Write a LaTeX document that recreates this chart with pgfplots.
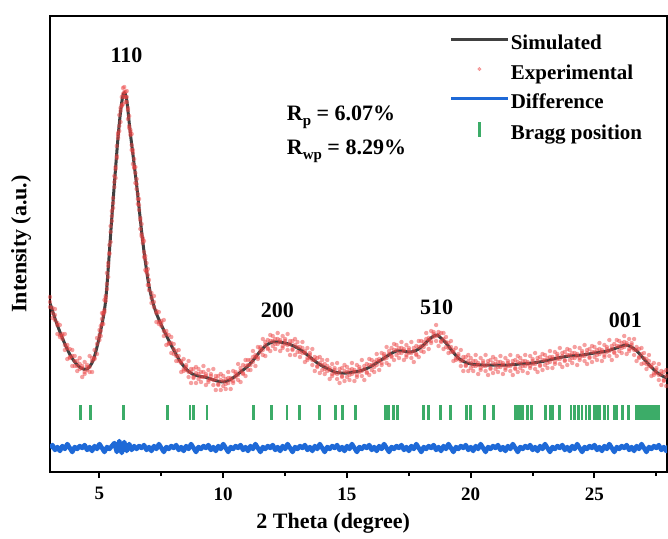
\documentclass[border=0pt]{standalone}
\usepackage{fontspec}
\setmainfont{Liberation Serif}
\usepackage{pgfplots}
\pgfplotsset{compat=1.18}
\usepackage{pgfplotstable}

\definecolor{simc}{RGB}{64,64,64}
\definecolor{expc}{RGB}{236,66,66}
\definecolor{difc}{RGB}{30,105,215}
\definecolor{bragc}{RGB}{60,172,104}

\pgfplotstableread{
x s
3.00 169
3.25 150
3.50 134
3.75 120
4.00 110
4.25 104
4.50 103
4.75 112
5.00 136
5.25 172
5.50 255
5.75 335
5.90 370
6.00 379
6.10 372
6.25 338
6.50 287
6.75 230
7.00 186
7.25 162
7.50 147
7.75 134
8.00 122
8.25 111
8.50 103
8.75 98
9.00 96
9.25 95
9.50 93
9.75 91
10.00 90
10.25 92
10.50 96
10.75 101
11.00 106
11.25 113
11.50 121
11.75 127
12.00 130
12.25 130
12.50 129
12.75 127
13.00 124
13.25 120
13.50 115
13.75 110
14.00 106
14.25 103
14.50 100
14.75 99
15.00 99
15.25 100
15.50 101
15.75 103
16.00 106
16.25 110
16.50 114
16.75 118
17.00 121
17.25 121
17.50 120
17.75 121
18.00 125
18.25 131
18.50 136
18.65 137
18.75 135
19.00 129
19.25 121
19.50 114
19.75 110
20.00 108
20.50 107
21.00 107
21.50 107
22.00 108
22.50 109
23.00 111
23.50 114
24.00 116
24.50 117
25.00 119
25.50 121
26.00 125
26.25 127
26.50 125
26.75 120
27.00 113
27.25 106
27.50 100
27.75 96
28.00 93
}\simdata

\pgfplotstableread{
x a b c
3.0 175 165 170
3.1 164 154 159
3.2 163 152 157
3.3 149 138 147
3.4 147 135 137
3.5 138 133 136
3.6 138 122 127
3.7 124 113 127
3.8 123 115 114
3.9 122 106 116
4.0 116 106 111
4.1 111 101 106
4.2 114 103 108
4.3 106 95 104
4.4 110 98 100
4.5 107 102 105
4.6 116 100 105
4.7 111 100 114
4.8 122 114 113
4.9 134 118 128
5.0 142 132 137
5.05 146 136 141
5.1 159 148 153
5.15 159 148 157
5.2 172 160 162
5.25 176 171 174
5.3 199 183 188
5.35 206 195 209
5.4 227 219 218
5.45 246 230 240
5.5 261 251 256
5.55 274 264 269
5.6 296 285 290
5.65 305 294 303
5.7 326 314 316
5.75 339 334 337
5.8 357 341 346
5.85 361 350 364
5.9 375 367 366
5.95 384 368 378
6.0 385 375 380
6.05 380 370 375
6.1 381 370 375
6.15 364 353 362
6.2 356 344 346
6.25 342 337 340
6.3 338 322 327
6.35 319 308 322
6.4 313 305 304
6.45 305 289 299
6.5 293 283 288
6.55 278 268 273
6.6 273 262 267
6.65 254 243 252
6.7 248 236 238
6.75 234 229 232
6.8 231 215 220
6.85 213 202 216
6.9 209 201 200
6.95 203 187 197
7.0 192 182 187
7.1 179 169 174
7.2 176 165 170
7.3 161 150 159
7.4 160 148 150
7.5 151 146 149
7.6 152 136 141
7.7 138 127 141
7.8 137 129 128
7.9 135 119 129
8.0 128 118 123
8.1 121 111 116
8.2 122 111 116
8.3 111 100 109
8.4 113 101 103
8.5 107 102 105
8.6 111 95 100
8.7 100 89 103
8.8 103 95 94
8.9 105 89 99
9.0 103 93 98
9.1 100 90 95
9.2 106 95 100
9.3 98 87 96
9.4 102 90 92
9.5 98 93 96
9.6 103 87 92
9.7 93 82 96
9.8 96 88 87
9.9 98 82 92
10.0 96 86 91
10.1 93 83 88
10.2 100 89 94
10.3 94 83 92
10.4 101 89 91
10.5 100 95 98
10.6 108 92 97
10.7 101 90 104
10.8 107 99 98
10.9 112 96 106
11.0 112 102 107
11.1 112 102 107
11.2 121 110 115
11.3 117 106 115
11.4 125 113 115
11.5 125 120 123
11.6 133 117 122
11.7 127 116 130
11.8 132 124 123
11.9 137 121 131
12.0 136 126 131
12.1 133 123 128
12.2 139 128 133
12.3 132 121 130
12.4 136 124 126
12.5 133 128 131
12.6 138 122 127
12.7 128 117 131
12.8 131 123 122
12.9 133 117 127
13.0 130 120 125
13.1 125 115 120
13.2 130 119 124
13.3 121 110 119
13.4 124 112 114
13.5 119 114 117
13.6 123 107 112
13.7 112 101 115
13.8 114 106 105
13.9 115 99 109
14.0 112 102 107
14.1 108 98 103
14.2 112 101 106
14.3 104 93 102
14.4 108 96 98
14.5 104 99 102
14.6 109 93 98
14.7 100 89 103
14.8 104 96 95
14.9 107 91 101
15.0 105 95 100
15.1 102 92 97
15.2 109 98 103
15.3 102 91 100
15.4 107 95 97
15.5 105 100 103
15.6 112 96 101
15.7 103 92 106
15.8 108 100 99
15.9 113 97 107
16.0 112 102 107
16.1 110 100 105
16.2 118 107 112
16.3 113 102 111
16.4 119 107 109
16.5 118 113 116
16.6 125 109 114
16.7 118 107 121
16.8 124 116 115
16.9 128 112 122
17.0 127 117 122
17.1 124 114 119
17.2 130 119 124
17.3 123 112 121
17.4 127 115 117
17.5 124 119 122
17.6 130 114 119
17.7 121 110 124
17.8 126 118 117
17.9 131 115 125
18.0 131 121 126
18.1 130 120 125
18.2 139 128 133
18.3 134 123 132
18.4 141 129 131
18.5 140 135 138
18.6 147 131 136
18.7 137 126 140
18.8 139 131 130
18.9 139 123 133
19.0 135 125 130
19.1 129 119 124
19.2 131 120 125
19.3 122 111 120
19.4 124 112 114
19.5 118 113 116
19.6 122 106 111
19.7 112 101 115
19.8 115 107 106
19.9 117 101 111
20.0 114 104 109
20.1 111 101 106
20.2 117 106 111
20.3 109 98 107
20.4 114 102 104
20.5 111 106 109
20.6 117 101 106
20.7 108 97 111
20.8 112 104 103
20.9 115 99 109
21.0 113 103 108
21.1 110 100 105
21.2 116 105 110
21.3 109 98 107
21.4 114 102 104
21.5 111 106 109
21.6 117 101 106
21.7 108 97 111
21.8 112 104 103
21.9 116 100 110
22.0 114 104 109
22.1 111 101 106
22.2 117 106 111
22.3 110 99 108
22.4 116 104 106
22.5 113 108 111
22.6 119 103 108
22.7 111 100 114
22.8 115 107 106
22.9 118 102 112
23.0 117 107 112
23.1 114 104 109
23.2 121 110 115
23.3 115 104 113
23.4 120 108 110
23.5 118 113 116
23.6 124 108 113
23.7 116 105 119
23.8 120 112 111
23.9 123 107 117
24.0 122 112 117
24.1 119 109 114
24.2 125 114 119
24.3 118 107 116
24.4 124 112 114
24.5 121 116 119
24.6 127 111 116
24.7 119 108 122
24.8 123 115 114
24.9 126 110 120
25.0 125 115 120
25.1 122 112 117
25.2 129 118 123
25.3 122 111 120
25.4 127 115 117
25.5 125 120 123
25.6 132 116 121
25.7 123 112 126
25.8 128 120 119
25.9 132 116 126
26.0 131 121 126
26.1 129 119 124
26.2 136 125 130
26.3 129 118 127
26.4 133 121 123
26.5 129 124 127
26.6 133 117 122
26.7 122 111 125
26.8 123 115 114
26.9 124 108 118
27.0 119 109 114
27.1 113 103 108
27.2 117 106 111
27.3 107 96 105
27.4 109 97 99
27.5 104 99 102
27.6 108 92 97
27.7 98 87 101
27.8 100 92 91
27.9 102 86 96
28.0 99 89 94
}\expdata

\pgfplotstableread{
x y
4.23 59.5
4.64 59.5
5.98 59.5
7.74 59.5
8.65 59.5
8.81 59.5
9.35 59.5
11.23 59.5
11.95 59.5
12.58 59.5
13.09 59.5
13.90 59.5
14.54 59.5
14.81 59.5
15.34 59.5
16.56 59.5
16.68 59.5
16.88 59.5
17.04 59.5
18.09 59.5
18.29 59.5
18.78 59.5
19.18 59.5
19.83 59.5
19.99 59.5
20.56 59.5
20.92 59.5
21.81 59.5
21.90 59.5
22.00 59.5
22.10 59.5
22.30 59.5
22.45 59.5
23.02 59.5
23.22 59.5
23.30 59.5
23.59 59.5
24.05 59.5
24.20 59.5
24.35 59.5
24.50 59.5
24.65 59.5
24.80 59.5
25.00 59.5
25.10 59.5
25.20 59.5
25.40 59.5
25.55 59.5
25.80 59.5
25.90 59.5
26.13 59.5
26.37 59.5
26.70 59.5
26.80 59.5
26.90 59.5
27.00 59.5
27.10 59.5
27.20 59.5
27.30 59.5
27.40 59.5
27.50 59.5
27.60 59.5
}\bragg

\begin{document}
\begin{tikzpicture}
\useasboundingbox (0,0) rectangle (668pt,538pt);
\begin{axis}[
  at={(50pt,66pt)}, anchor=south west,
  scale only axis, width=617pt, height=456pt,
  xmin=3, xmax=27.93, ymin=0, ymax=456,
  axis line style={line width=2.2pt, black},
  xtick={5,10,15,20,25},
  minor xtick={7.5,12.5,17.5,22.5,27.5},
  xtick pos=left, ytick=\empty,
  tick align=outside,
  major tick length=6pt, minor tick length=4pt,
  every tick/.style={line width=2pt, black},
  /pgf/number format/assume math mode=true,
  xticklabel style={font=\fontsize{19}{19}\selectfont\bfseries, yshift=-6pt},
  xlabel={2 Theta (degree)},
  ylabel={Intensity (a.u.)},
  xlabel style={font=\fontsize{22}{22}\selectfont\bfseries, at={(axis description cs:0.459,-0.112)}, anchor=center},
  ylabel style={font=\fontsize{22}{22}\selectfont\bfseries, at={(axis description cs:-0.047,0.5)}, anchor=center, rotate=0},
  legend cell align=left,
  legend style={at={(axis description cs:0.648,0.962)}, anchor=north west, draw=none, fill=none,
    font=\fontsize{21}{21}\selectfont\bfseries, inner sep=0pt, row sep=7.5pt,
    nodes={inner sep=1pt, text height=15pt, text depth=5pt},
    /tikz/every even column/.append style={column sep=2pt}},
]
\addplot[only marks, mark=*, mark size=2.2pt, mark options={draw opacity=0, fill=expc, fill opacity=0.5}, forget plot] table[x=x,y=a]{\expdata};
\addplot[only marks, mark=*, mark size=2.2pt, mark options={draw opacity=0, fill=expc, fill opacity=0.5}, forget plot] table[x=x,y=b]{\expdata};
\addplot[only marks, mark=*, mark size=2.2pt, mark options={draw opacity=0, fill=expc, fill opacity=0.5}, forget plot] table[x=x,y=c]{\expdata};

\addplot[simc, line width=3pt, smooth, legend image code/.code={\draw[simc, line width=2.8pt] (0pt,5pt) -- (57pt,5pt);}] table[x=x,y=s]{\simdata};
\addlegendentry{Simulated}
\addlegendimage{legend image code/.code={\fill[expc, opacity=0.45] (28pt,5pt) circle (1.8pt);}}
\addlegendentry{Experimental}

\addplot[difc, line width=4.5pt, line join=round, legend image code/.code={\draw[difc, line width=2.8pt] (0pt,5pt) -- (57pt,5pt);}] coordinates {
(3.0,24)(3.1,27)(3.2,22)(3.3,25)(3.4,21)(3.5,26)(3.6,23)(3.7,28)(3.8,24)(3.9,20)
(4.0,25)(4.1,23)(4.2,26)(4.3,24)(4.4,27)(4.5,22)(4.6,25)(4.7,21)(4.8,26)(4.9,23)
(5.0,28)(5.1,24)(5.2,20)(5.3,25)(5.4,23)(5.5,26)(5.6,29)(5.7,20)(5.8,31)(5.9,19)
(6.0,30)(6.1,21)(6.2,28)(6.3,22)(6.4,26)(6.5,23)(6.6,26)(6.7,24)(6.8,27)(6.9,22)
(7.0,25)(7.1,21)(7.2,26)(7.3,23)(7.4,28)(7.5,24)(7.6,20)(7.7,25)(7.8,23)(7.9,26)
(8.0,24)(8.1,27)(8.2,22)(8.3,25)(8.4,21)(8.5,26)(8.6,23)(8.7,28)(8.8,24)(8.9,20)
(9.0,25)(9.1,23)(9.2,26)(9.3,24)(9.4,27)(9.5,22)(9.6,25)(9.7,21)(9.8,26)(9.9,23)
(10.0,28)(10.1,24)(10.2,20)(10.3,25)(10.4,23)(10.5,26)(10.6,24)(10.7,27)(10.8,22)(10.9,25)
(11.0,21)(11.1,26)(11.2,23)(11.3,28)(11.4,24)(11.5,20)(11.6,25)(11.7,23)(11.8,26)(11.9,24)
(12.0,27)(12.1,22)(12.2,25)(12.3,21)(12.4,26)(12.5,23)(12.6,28)(12.7,24)(12.8,20)(12.9,25)
(13.0,23)(13.1,26)(13.2,24)(13.3,27)(13.4,22)(13.5,25)(13.6,21)(13.7,26)(13.8,23)(13.9,28)
(14.0,24)(14.1,20)(14.2,25)(14.3,23)(14.4,26)(14.5,24)(14.6,27)(14.7,22)(14.8,25)(14.9,21)
(15.0,26)(15.1,23)(15.2,28)(15.3,24)(15.4,20)(15.5,25)(15.6,23)(15.7,26)(15.8,24)(15.9,27)
(16.0,22)(16.1,25)(16.2,21)(16.3,26)(16.4,23)(16.5,28)(16.6,24)(16.7,20)(16.8,25)(16.9,23)
(17.0,26)(17.1,24)(17.2,27)(17.3,22)(17.4,25)(17.5,21)(17.6,26)(17.7,23)(17.8,28)(17.9,24)
(18.0,20)(18.1,25)(18.2,23)(18.3,26)(18.4,24)(18.5,27)(18.6,22)(18.7,25)(18.8,21)(18.9,26)
(19.0,23)(19.1,28)(19.2,24)(19.3,20)(19.4,25)(19.5,23)(19.6,26)(19.7,24)(19.8,27)(19.9,22)
(20.0,25)(20.1,21)(20.2,26)(20.3,23)(20.4,28)(20.5,24)(20.6,20)(20.7,25)(20.8,23)(20.9,26)
(21.0,24)(21.1,27)(21.2,22)(21.3,25)(21.4,21)(21.5,26)(21.6,23)(21.7,28)(21.8,24)(21.9,20)
(22.0,25)(22.1,23)(22.2,26)(22.3,24)(22.4,27)(22.5,22)(22.6,25)(22.7,21)(22.8,26)(22.9,23)
(23.0,28)(23.1,24)(23.2,20)(23.3,25)(23.4,23)(23.5,26)(23.6,24)(23.7,27)(23.8,22)(23.9,25)
(24.0,21)(24.1,26)(24.2,23)(24.3,28)(24.4,24)(24.5,20)(24.6,25)(24.7,23)(24.8,26)(24.9,24)
(25.0,27)(25.1,22)(25.2,25)(25.3,21)(25.4,26)(25.5,23)(25.6,28)(25.7,24)(25.8,20)(25.9,25)
(26.0,23)(26.1,26)(26.2,24)(26.3,27)(26.4,22)(26.5,25)(26.6,21)(26.7,26)(26.8,23)(26.9,28)
(27.0,24)(27.1,20)(27.2,25)(27.3,23)(27.4,26)(27.5,24)(27.6,27)(27.7,22)(27.8,25)(27.9,21)
(28.0,26)
};
\addlegendentry{Difference}

\addplot[only marks, mark=|, mark size=7.5pt, bragc, line width=2.6pt, mark options={bragc, line width=2.6pt},
  legend image code/.code={\fill[fill=bragc] (27.4pt,-1pt) rectangle (28.6pt,11pt);}] table[x=x,y=y]{\bragg};
\addlegendentry{Bragg position}

\node[font=\fontsize{22}{22}\selectfont\bfseries] at (axis cs:6.09,417) {110};
\node[font=\fontsize{22}{22}\selectfont\bfseries] at (axis cs:12.19,162) {200};
\node[font=\fontsize{22}{22}\selectfont\bfseries] at (axis cs:18.62,165) {510};
\node[font=\fontsize{22}{22}\selectfont\bfseries] at (axis cs:26.25,152) {001};
\node[font=\fontsize{22}{22}\selectfont\bfseries, anchor=west] at (axis cs:12.43,355) {R\raisebox{-5pt}{\fontsize{15}{15}\selectfont p} = 6.07\%};
\node[font=\fontsize{22}{22}\selectfont\bfseries, anchor=west] at (axis cs:12.43,321) {R\raisebox{-5pt}{\fontsize{15}{15}\selectfont wp} = 8.29\%};
\end{axis}
\end{tikzpicture}
\end{document}
